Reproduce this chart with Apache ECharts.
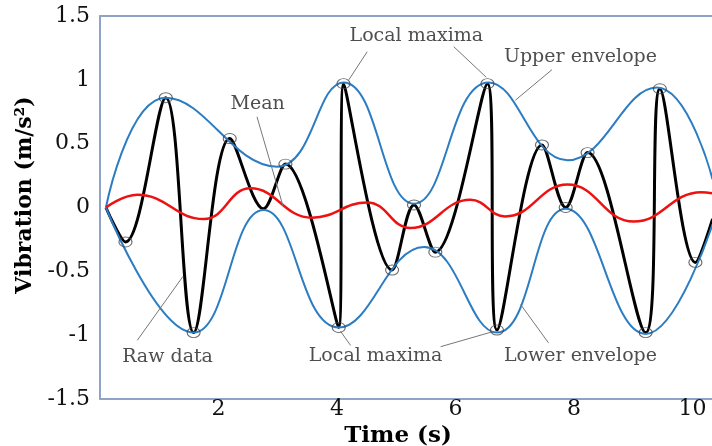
<!DOCTYPE html>
<html>
<head>
<meta charset="utf-8">
<script src="https://cdn.jsdelivr.net/npm/echarts@6/dist/echarts.min.js"></script>
<style>
  html, body { margin: 0; padding: 0; background: #ffffff; }
  #chart { width: 712px; height: 446px; }
</style>
</head>
<body>
<div id="chart"></div>
<script>
// Raw vibration signal, given by its turning points (time in s, acceleration in m/s^2)
const rawTime = [0.10, 0.43, 1.11, 1.58, 2.19, 2.76, 3.13, 4.03, 4.11, 4.93, 5.30, 5.66, 6.54, 6.70, 7.46, 7.86, 8.23, 9.21, 9.45, 10.05, 10.34];
const rawValue = [0.00, -0.27, 0.86, -0.98, 0.54, -0.01, 0.34, -0.94, 0.97, -0.49, 0.02, -0.35, 0.97, -0.96, 0.49, 0.00, 0.43, -0.98, 0.93, -0.43, -0.09];

// Local extrema used to build the envelopes (circled)
const extremaTime = [0.43, 1.11, 1.58, 2.19, 3.13, 4.03, 4.11, 4.93, 5.30, 5.66, 6.54, 6.70, 7.46, 7.86, 8.23, 9.21, 9.45, 10.05];
const extremaValue = [-0.27, 0.86, -0.98, 0.54, 0.34, -0.94, 0.97, -0.49, 0.02, -0.35, 0.97, -0.96, 0.49, 0.00, 0.43, -0.98, 0.93, -0.43];

// Upper envelope (start, turning points, end)
const upperTime = [0.10, 1.11, 2.99, 4.11, 5.30, 6.56, 7.89, 9.40, 10.34];
const upperValue = [0.00, 0.86, 0.32, 0.98, 0.03, 0.98, 0.37, 0.94, 0.22];

// Lower envelope (start, turning points, end)
const lowerTime = [0.10, 1.58, 2.76, 4.03, 5.47, 6.70, 7.86, 9.21, 10.34];
const lowerValue = [0.00, -0.98, -0.02, -0.94, -0.31, -0.98, -0.01, -0.99, -0.13];

// Mean of the two envelopes (start, turning points, end)
const meanTime = [0.10, 0.63, 1.75, 2.54, 3.58, 4.51, 5.24, 6.25, 6.84, 7.89, 9.01, 10.15, 10.34];
const meanValue = [0.00, 0.10, -0.09, 0.15, -0.08, 0.04, -0.16, 0.06, -0.07, 0.18, -0.11, 0.12, 0.11];

// Axis ranges and tick steps
const xTicks = { min: 0, max: 10.33, step: 2 };
const yTicks = { min: -1.5, max: 1.5, step: 0.5 };

// Callout texts, their anchor points and leader lines
const noteText = ['Local maxima', 'Upper envelope', 'Mean', 'Raw data', 'Local maxima', 'Lower envelope'];
const noteTime = [5.34, 8.11, 2.66, 1.14, 4.65, 8.11];
const noteValue = [1.34, 1.18, 0.81, -1.17, -1.16, -1.16];
const leaderFrom = [[4.51, 1.22], [5.97, 1.26], [7.63, 1.08], [2.65, 0.71], [0.63, -1.04], [4.06, -0.97], [5.75, -1.09], [7.57, -1.06]];
const leaderTo = [[4.20, 1.00], [6.52, 1.02], [7.01, 0.84], [3.09, 0.01], [1.40, -0.54], [4.23, -1.08], [6.65, -0.97], [7.10, -0.76]];

const zip = (a, b) => a.map((v, i) => [v, b[i]]);

const serif = 'DejaVu Serif';
const frameColor = '#8fa3c9';
const envelopeColor = '#2b7cc2';

const chart = echarts.init(document.getElementById('chart'), null, { renderer: 'canvas' });

chart.setOption({
  animation: false,
  backgroundColor: '#ffffff',
  grid: { left: 100, right: 0, top: 16, bottom: 47, containLabel: false, outerBoundsMode: 'none' },
  xAxis: [
    {
      type: 'value',
      min: xTicks.min, max: xTicks.max, interval: xTicks.step,
      axisLine: { show: true, onZero: false, lineStyle: { color: frameColor, width: 2 } },
      axisTick: { show: false },
      splitLine: { show: false },
      axisLabel: {
        fontFamily: serif, fontSize: 22, color: '#111', margin: -1,
        showMaxLabel: false,
        formatter: v => (v === 0 ? '' : String(v))
      },
      name: 'Time (s)',
      nameLocation: 'middle',
      nameGap: 22,
      nameTextStyle: { fontFamily: serif, fontWeight: 'bold', fontSize: 23, color: '#000', padding: [0, 16, 0, 0] }
    },
    {
      type: 'value', position: 'top',
      min: xTicks.min, max: xTicks.max, interval: xTicks.step,
      axisLine: { show: true, onZero: false, lineStyle: { color: frameColor, width: 2 } },
      axisTick: { show: false }, axisLabel: { show: false }, splitLine: { show: false }
    }
  ],
  yAxis: {
    type: 'value',
    min: yTicks.min, max: yTicks.max, interval: yTicks.step,
    axisLine: { show: true, onZero: false, lineStyle: { color: frameColor, width: 2 } },
    axisTick: { show: false },
    splitLine: { show: false },
    axisLabel: { fontFamily: serif, fontSize: 22, color: '#111', margin: 10 },
    name: 'Vibration (m/s²)',
    nameLocation: 'middle',
    nameRotate: 90,
    nameGap: 54,
    nameTextStyle: { fontFamily: serif, fontWeight: 'bold', fontSize: 22, color: '#000', padding: [0, 0, 0, 25] }
  },
  series: [
    {
      name: 'Raw data', type: 'line', data: zip(rawTime, rawValue),
      smooth: 0.35, showSymbol: false, z: 2,
      lineStyle: { color: '#000000', width: 3 }
    },
    {
      name: 'Upper envelope', type: 'line', data: zip(upperTime, upperValue),
      smooth: 0.45, showSymbol: false, z: 3,
      lineStyle: { color: envelopeColor, width: 2 }
    },
    {
      name: 'Lower envelope', type: 'line', data: zip(lowerTime, lowerValue),
      smooth: 0.45, showSymbol: false, z: 3,
      lineStyle: { color: envelopeColor, width: 2 }
    },
    {
      name: 'Mean', type: 'line', data: zip(meanTime, meanValue),
      smooth: 0.45, showSymbol: false, z: 4,
      lineStyle: { color: '#ee1111', width: 2.5 }
    },
    {
      name: 'Extrema', type: 'scatter', data: zip(extremaTime, extremaValue),
      symbol: 'circle', symbolSize: [13, 10], z: 5,
      itemStyle: { color: 'rgba(255,255,255,0)', borderColor: '#444', borderWidth: 1 }
    },
    {
      name: 'Leaders', type: 'lines', coordinateSystem: 'cartesian2d', z: 5,
      data: leaderFrom.map((p, i) => ({ coords: [p, leaderTo[i]] })),
      lineStyle: { color: '#777', width: 1, opacity: 1 }
    },
    {
      name: 'Notes', type: 'scatter', data: zip(noteTime, noteValue),
      symbol: 'circle', symbolSize: 1, z: 6,
      itemStyle: { color: 'rgba(255,255,255,0)' },
      label: {
        show: true, position: 'inside',
        fontFamily: serif, fontSize: 19, color: '#222',
        formatter: p => noteText[p.dataIndex]
      }
    }
  ]
});
</script>
</body>
</html>
